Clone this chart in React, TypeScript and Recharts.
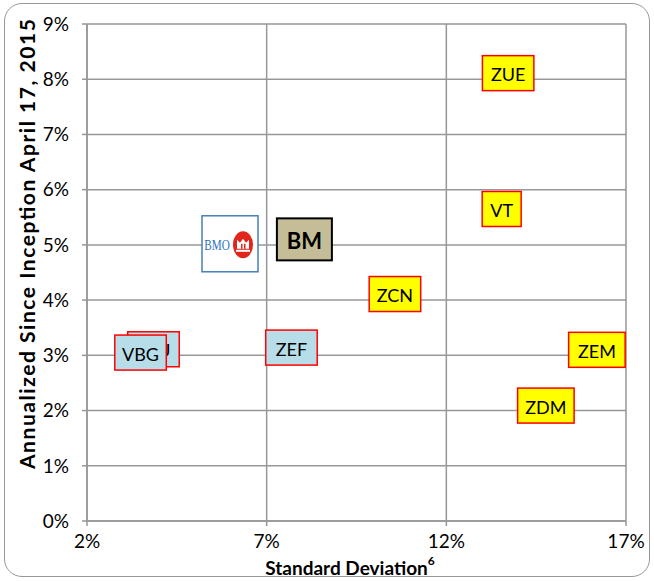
import React from "react";
import { ScatterChart, Scatter, XAxis, YAxis, CartesianGrid } from "recharts";

// ETFs shown as yellow boxes (red border)
const yellowLabels = ["ZUE", "VT", "ZCN", "ZEM", "ZDM"];
const yellowSd = [13.72, 13.54, 10.57, 16.19, 14.77];
const yellowRet = [8.11, 5.65, 4.11, 3.1, 2.09];

// ETFs shown as light blue boxes (first one sits behind VBG)
const blueLabels = ["ZFU", "VBG", "ZEF"];
const blueSd = [3.85, 3.49, 7.69];
const blueRet = [3.11, 3.05, 3.14];

// the BM portfolio and the BMO logo marker
const bmLabels = ["BM"];
const bmSd = [8.05];
const bmRet = [5.1];
const logoSd = [5.98];
const logoRet = [5.02];

const xTicks = [2, 7, 12, 17];
const yTicks = [0, 1, 2, 3, 4, 5, 6, 7, 8, 9];

const toPoints = (labels: string[], xs: number[], ys: number[]) =>
  xs.map((x, i) => ({ label: labels[i], x, y: ys[i] }));

const yellowData = toPoints(yellowLabels, yellowSd, yellowRet);
const blueData = toPoints(blueLabels, blueSd, blueRet);
const bmData = toPoints(bmLabels, bmSd, bmRet);
const logoData = toPoints(["BMO"], logoSd, logoRet);

const FONT = "Lato, 'Open Sans', sans-serif";
const GRID = "#979797";

function boxWidth(label: string) {
  const extra = (label.match(/[MW]/g) || []).length * 5;
  return 14 + label.length * 12.5 + extra;
}

function LabelBox(props: any) {
  const { cx, cy, payload, fill, stroke } = props;
  if (cx == null || cy == null) return null;
  const w = boxWidth(payload.label);
  const h = 35;
  return (
    <g>
      <rect x={cx - w / 2} y={cy - h / 2} width={w} height={h} fill={fill} stroke={stroke} strokeWidth={1.5} />
      <text x={cx} y={cy + 1} textAnchor="middle" dominantBaseline="central" fontFamily={FONT} fontSize={18} fill="#000">
        {payload.label}
      </text>
    </g>
  );
}

function BmBox(props: any) {
  const { cx, cy, payload } = props;
  if (cx == null || cy == null) return null;
  const w = 55;
  const h = 42;
  return (
    <g>
      <rect x={cx - w / 2} y={cy - h / 2} width={w} height={h} fill="#C4BD97" stroke="#000" strokeWidth={2} />
      <text x={cx} y={cy + 1} textAnchor="middle" dominantBaseline="central" fontFamily={FONT} fontWeight="bold" fontSize={22} fill="#000">
        {payload.label}
      </text>
    </g>
  );
}

function LogoBox(props: any) {
  const { cx, cy } = props;
  if (cx == null || cy == null) return null;
  const ex = cx + 13;
  const ey = cy + 1;
  return (
    <g>
      <rect x={cx - 28} y={cy - 28} width={56} height={56} fill="#fff" stroke="#4A7EBB" strokeWidth={1.5} />
      <text x={cx - 13} y={cy + 2} textAnchor="middle" dominantBaseline="central" fontFamily="'Liberation Serif', serif" fontSize={14} fill="#2E74C0" transform={`translate(${cx - 13} ${cy + 2}) scale(0.8 1) translate(${-(cx - 13)} ${-(cy + 2)})`}>
        BMO
      </text>
      <ellipse cx={ex} cy={ey} rx={10} ry={13.5} fill="#E1251B" />
      <path
        d={`M${ex - 6} ${ey + 4} L${ex - 6} ${ey - 5} L${ex - 3} ${ey - 2} L${ex} ${ey - 6} L${ex + 3} ${ey - 2} L${ex + 6} ${ey - 5} L${ex + 6} ${ey + 4} Z`}
        fill="#fff"
      />
      <rect x={ex - 7} y={ey + 5} width={14} height={2} fill="#fff" />
      <rect x={ex - 2} y={ey - 1} width={1.5} height={5} fill="#E1251B" />
      <rect x={ex + 1} y={ey - 1} width={1.5} height={5} fill="#E1251B" />
    </g>
  );
}

export default function App() {
  return (
    <div style={{ position: "absolute", left: 0, top: 0, width: 654, height: 581, background: "#fff" }}>
      <div
        style={{
          position: "absolute",
          left: 4,
          top: 3,
          width: 644,
          height: 572,
          border: `1.5px solid ${GRID}`,
          borderRadius: 18,
        }}
      />
      <ScatterChart width={654} height={581} margin={{ top: 24, right: 28, bottom: 0, left: 0 }} style={{ position: "absolute", left: 0, top: 0 }}>
        <CartesianGrid stroke={GRID} strokeWidth={1.5} />
        <XAxis
          type="number"
          dataKey="x"
          domain={[2, 17]}
          ticks={xTicks}
          tickFormatter={(v: number) => `${v}%`}
          axisLine={{ stroke: GRID, strokeWidth: 1.5 }}
          tickLine={{ stroke: GRID, strokeWidth: 1.5 }}
          tickSize={5}
          tickMargin={9}
          height={60}
          tick={{ fill: "#000", fontSize: 19, fontFamily: FONT }}
          interval={0}
          label={{
            content: () => (
              <text x={350} y={567} textAnchor="middle" dominantBaseline="central" fontFamily={FONT} fontWeight="bold" fontSize={19} fill="#000">
                Standard Deviation
                <tspan dy={-7} fontSize={12}>6</tspan>
              </text>
            ),
          }}
        />
        <YAxis
          type="number"
          dataKey="y"
          domain={[0, 9]}
          ticks={yTicks}
          tickFormatter={(v: number) => `${v}%`}
          axisLine={{ stroke: GRID, strokeWidth: 1.5 }}
          tickLine={{ stroke: GRID, strokeWidth: 1.5 }}
          tickSize={5}
          tickMargin={13}
          width={87}
          tick={{ fill: "#000", fontSize: 19, fontFamily: FONT }}
          interval={0}
          label={{
            content: () => (
              <text
                x={26}
                y={244}
                textAnchor="middle"
                dominantBaseline="central"
                fontFamily={FONT}
                fontWeight="bold"
                fontSize={21}
                textLength={450}
                lengthAdjust="spacing"
                fill="#000"
                transform="rotate(-90 26 244)"
              >
                Annualized Since Inception April 17, 2015
              </text>
            ),
          }}
        />
        <Scatter data={yellowData} isAnimationActive={false} shape={(p: any) => <LabelBox {...p} fill="#FFFF00" stroke="#FF0000" />} />
        <Scatter data={blueData} isAnimationActive={false} shape={(p: any) => <LabelBox {...p} fill="#B7DEE8" stroke="#FF0000" />} />
        <Scatter data={bmData} isAnimationActive={false} shape={(p: any) => <BmBox {...p} />} />
        <Scatter data={logoData} isAnimationActive={false} shape={(p: any) => <LogoBox {...p} />} />
      </ScatterChart>
    </div>
  );
}
